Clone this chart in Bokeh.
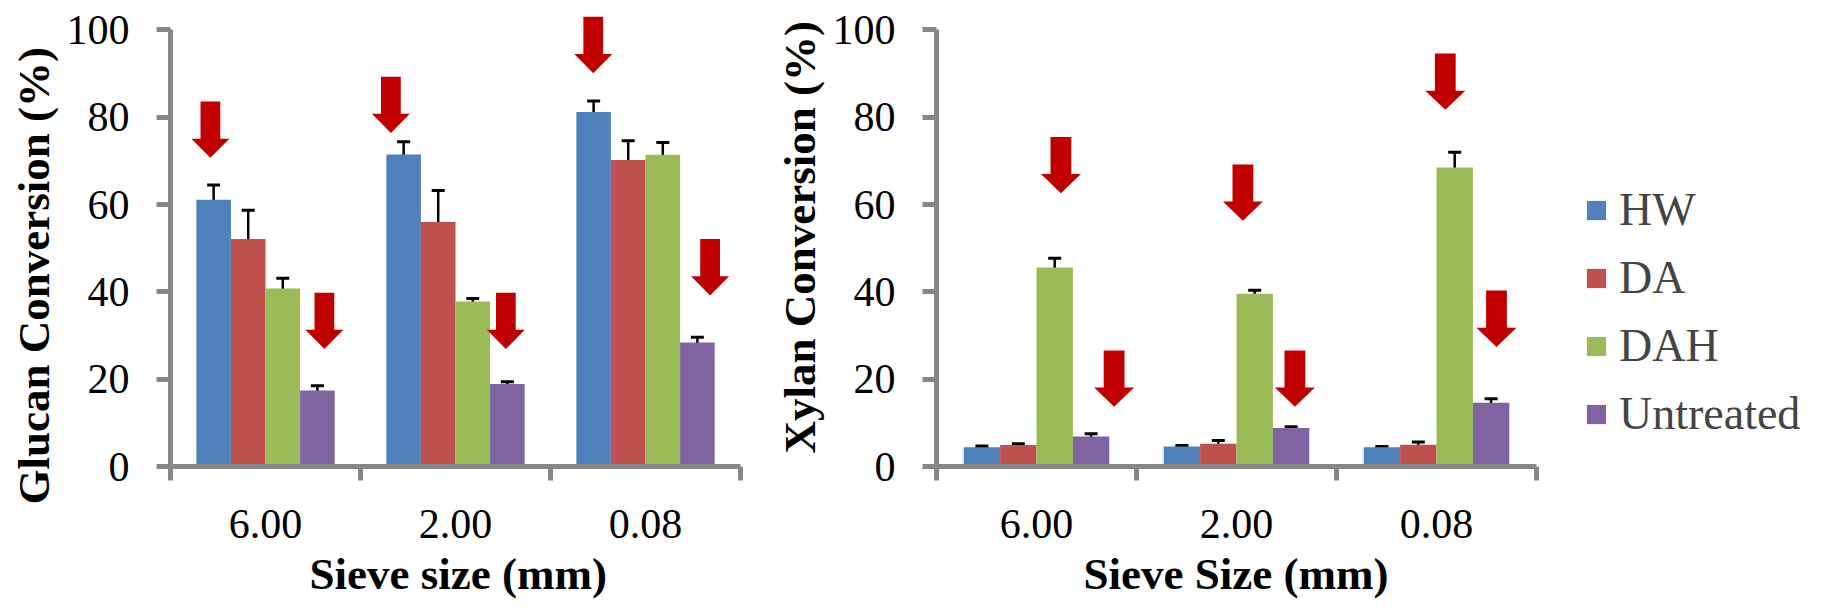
import numpy as np
from bokeh.plotting import figure
from bokeh.models import (ColumnDataSource, Range1d, FixedTicker, LinearAxis, Whisker,
                          TeeHead, Legend, LegendItem, Title)
from bokeh.layouts import row
from bokeh.embed import file_html
from bokeh.resources import INLINE

# ---------------- data ----------------
categories = ["6.00", "2.00", "0.08"]
series = ["HW", "DA", "DAH", "Untreated"]
colors = ["#4F81BD", "#C0504D", "#9BBB59", "#8064A2"]

glucan_hw = [61.1, 71.5, 81.2]
glucan_da = [52.1, 56.0, 70.2]
glucan_dah = [40.8, 37.8, 71.4]
glucan_untreated = [17.4, 18.9, 28.4]
glucan_hw_err = [3.4, 2.9, 2.5]
glucan_da_err = [6.6, 7.2, 4.4]
glucan_dah_err = [2.3, 0.7, 2.8]
glucan_untreated_err = [1.1, 0.5, 1.2]

xylan_hw = [4.4, 4.6, 4.4]
xylan_da = [4.9, 5.2, 5.0]
xylan_dah = [45.6, 39.6, 68.5]
xylan_untreated = [6.9, 8.8, 14.6]
xylan_hw_err = [0.3, 0.2, 0.2]
xylan_da_err = [0.3, 0.75, 0.6]
xylan_dah_err = [2.1, 0.8, 3.5]
xylan_untreated_err = [0.6, 0.3, 0.9]

# red arrows: category index, position inside the category (0..1), tip value
glucan_arrow_cat = [0, 1, 2, 0, 1, 2]
glucan_arrow_pos = [0.21, 0.16, 0.225, 0.81, 0.765, 0.84]
glucan_arrow_tip = [70.7, 76.4, 90.1, 26.9, 26.9, 39.2]

xylan_arrow_cat = [0, 0, 1, 1, 2, 2]
xylan_arrow_pos = [0.622, 0.888, 0.532, 0.792, 0.544, 0.800]
xylan_arrow_tip = [62.6, 13.7, 56.3, 13.7, 81.7, 27.4]

y_ticks = [0, 20, 40, 60, 80, 100]

# ---------------- style ----------------
BAR_W = 0.182
ARROW_LEN = 12.9
ARROW_HEAD = 4.4
SHAFT_HW = 0.052
HEAD_HW = 0.1
AXIS_COLOR = "#878787"
SERIF = "Liberation Serif"
N_CAT = len(categories)


def make_chart(values, errors, a_cat, a_pos, a_tip, ytitle, xtitle, title_offset,
               xtitle_offset, width, border_left, axis_w, frame_w, with_legend=False):
    border_right = width - border_left - frame_w
    x_end = N_CAT * frame_w / axis_w
    p = figure(width=width, height=608, x_range=Range1d(0, x_end), y_range=Range1d(0, 104),
               output_backend="svg", toolbar_location=None,
               x_axis_type=None, y_axis_type=None,
               min_border_left=border_left, min_border_right=border_right,
               min_border_top=12, min_border_bottom=141)
    p.outline_line_color = None
    p.background_fill_color = "white"
    p.border_fill_color = "white"

    centers = np.arange(N_CAT) + 0.5
    renderers = []
    for i, (name, col) in enumerate(zip(series, colors)):
        xs = centers + (i - 1.5) * BAR_W
        top = np.array(values[i])
        err = np.array(errors[i])
        src = ColumnDataSource(dict(x=xs, top=top, upper=top + err, lower=top - err))
        r = p.vbar(x="x", top="top", width=BAR_W, bottom=0, source=src,
                   fill_color=col, line_color=None)
        renderers.append(r)
        w = Whisker(source=src, base="x", upper="upper", lower="lower",
                    line_color="black", line_width=2.5,
                    upper_head=TeeHead(size=13, line_width=3, line_color="black"),
                    lower_head=TeeHead(size=13, line_width=3, line_color="black"))
        p.add_layout(w)

    # arrows
    axs, ays = [], []
    for c, ps, t in zip(a_cat, a_pos, a_tip):
        x = c + ps
        top = t + ARROW_LEN
        base = t + ARROW_HEAD
        axs.append([x - SHAFT_HW, x + SHAFT_HW, x + SHAFT_HW, x + HEAD_HW, x, x - HEAD_HW, x - SHAFT_HW])
        ays.append([top, top, base, base, t, base, base])
    p.patches(xs=axs, ys=ays, fill_color="#C00000", line_color=None)

    # y axis
    yaxis = LinearAxis(bounds=(0, 100), ticker=FixedTicker(ticks=y_ticks))
    yaxis.axis_line_color = AXIS_COLOR
    yaxis.axis_line_width = 5
    yaxis.major_tick_line_color = AXIS_COLOR
    yaxis.major_tick_line_width = 5
    yaxis.major_tick_out = 14
    yaxis.major_tick_in = 0
    yaxis.minor_tick_line_color = None
    yaxis.major_label_text_font = SERIF
    yaxis.major_label_text_font_size = "42px"
    yaxis.major_label_text_color = "black"
    yaxis.major_label_standoff = 27
    p.add_layout(yaxis, "left")

    # x axis (ticks between categories)
    xaxis = LinearAxis(bounds=(0, N_CAT),
                       ticker=FixedTicker(ticks=list(centers), minor_ticks=list(range(N_CAT + 1))),
                       major_label_overrides={float(c): lab for c, lab in zip(centers, categories)})
    xaxis.axis_line_color = AXIS_COLOR
    xaxis.axis_line_width = 5
    xaxis.major_tick_line_color = None
    xaxis.major_tick_out = 14
    xaxis.major_tick_in = 0
    xaxis.minor_tick_line_color = AXIS_COLOR
    xaxis.minor_tick_line_width = 5
    xaxis.minor_tick_out = 14
    xaxis.minor_tick_in = 0
    xaxis.major_label_text_font = SERIF
    xaxis.major_label_text_font_size = "42px"
    xaxis.major_label_text_color = "black"
    xaxis.major_label_standoff = 29
    p.add_layout(xaxis, "below")

    xt = Title(text=xtitle, align="left", offset=xtitle_offset, vertical_align="top",
               text_font=SERIF, text_font_size="45px", text_font_style="bold",
               text_color="black", standoff=16)
    p.add_layout(xt, "below")

    t = Title(text=ytitle, align="left", offset=title_offset, vertical_align="bottom",
              text_font=SERIF, text_font_size="45px", text_font_style="bold",
              text_color="black", standoff=10)
    p.add_layout(t, "left")

    if with_legend:
        items = [LegendItem(label=s, renderers=[r]) for s, r in zip(series, renderers)]
        legend = Legend(items=items, location=(axis_w + 48, 26), glyph_width=24, glyph_height=24,
                        label_text_font=SERIF, label_text_font_size="46px",
                        label_standoff=11, spacing=15, padding=0, margin=0,
                        border_line_color=None, background_fill_alpha=0)
        p.add_layout(legend)
    return p


p1 = make_chart([glucan_hw, glucan_da, glucan_dah, glucan_untreated],
                [glucan_hw_err, glucan_da_err, glucan_dah_err, glucan_untreated_err],
                glucan_arrow_cat, glucan_arrow_pos, glucan_arrow_tip,
                "Glucan Conversion (%)", "Sieve size (mm)", -38, 139,
                766, 170, 570, 570)
p2 = make_chart([xylan_hw, xylan_da, xylan_dah, xylan_untreated],
                [xylan_hw_err, xylan_da_err, xylan_dah_err, xylan_untreated_err],
                xylan_arrow_cat, xylan_arrow_pos, xylan_arrow_tip,
                "Xylan Conversion (%)", "Sieve Size (mm)", 13, 147,
                1058, 170, 600, 878, with_legend=True)

layout = row(p1, p2)
open("out.html", "w").write(file_html(layout, INLINE))
